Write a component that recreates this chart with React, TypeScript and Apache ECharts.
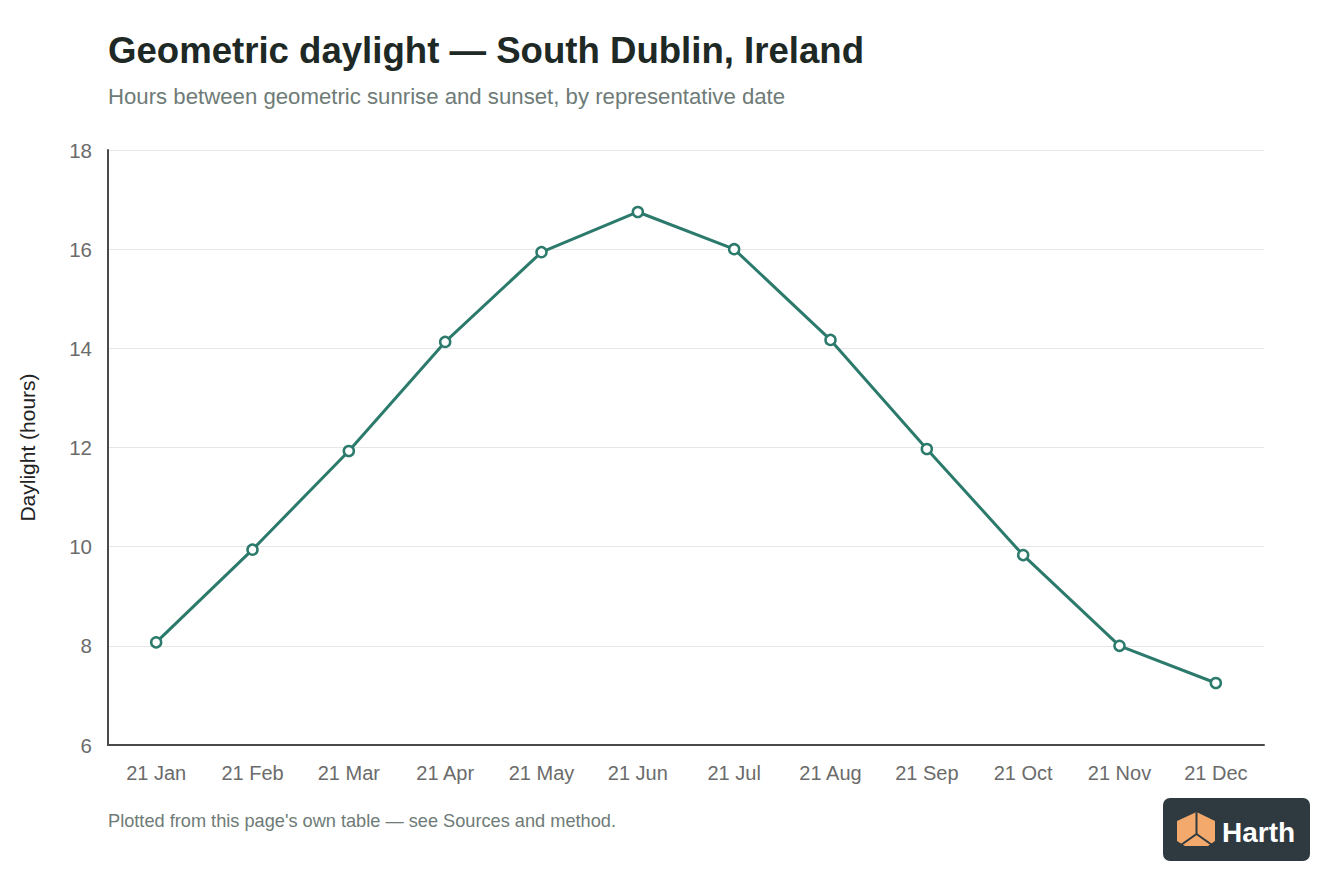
import React, { useEffect, useRef } from "react";
import * as echarts from "echarts";

const categories = ["21 Jan", "21 Feb", "21 Mar", "21 Apr", "21 May", "21 Jun", "21 Jul", "21 Aug", "21 Sep", "21 Oct", "21 Nov", "21 Dec"];
const daylightHours = [8.07, 9.94, 11.93, 14.13, 15.94, 16.75, 16.0, 14.17, 11.97, 9.83, 8.0, 7.25];
const titleText = "Geometric daylight — South Dublin, Ireland";
const subtitleText = "Hours between geometric sunrise and sunset, by representative date";
const yAxisName = "Daylight (hours)";
const footnoteText = "Plotted from this page's own table — see Sources and method.";
const logoText = "Harth";

const FONT = "'Liberation Sans', Arial, Helvetica, sans-serif";
const LINE = "#2b7a6b";

export default function App() {
  const ref = useRef<HTMLDivElement>(null);
  useEffect(() => {
    if (!ref.current) return;
    const chart = echarts.init(ref.current, null, { renderer: "svg" });
    chart.setOption({
      animation: false,
      backgroundColor: "#ffffff",
      title: [
        {
          text: titleText,
          left: 103,
          top: 27,
          textStyle: { fontFamily: FONT, fontSize: 36.6, fontWeight: "bold", color: "#1e2925" },
        },
        {
          text: subtitleText,
          left: 103,
          top: 80,
          textStyle: { fontFamily: FONT, fontSize: 22.2, fontWeight: "normal", color: "#6e7b77" },
        },
      ],
      grid: { left: 108, right: 80, top: 150, bottom: 151, containLabel: false },
      xAxis: {
        type: "category",
        data: categories,
        boundaryGap: true,
        axisLine: { lineStyle: { color: "#4a4a4a", width: 2 } },
        axisTick: { show: false },
        axisLabel: { fontFamily: FONT, fontSize: 20, color: "#6b6b6b", margin: 18 },
      },
      yAxis: {
        type: "value",
        min: 6,
        max: 18,
        interval: 2,
        name: yAxisName,
        nameLocation: "middle",
        nameGap: 70,
        nameTextStyle: { fontFamily: FONT, fontSize: 21, color: "#222222" },
        axisLine: { show: true, lineStyle: { color: "#4a4a4a", width: 2 } },
        axisTick: { show: false },
        axisLabel: { fontFamily: FONT, fontSize: 20.5, color: "#6b6b6b", margin: 16 },
        splitLine: { lineStyle: { color: "#e6e6e6", width: 1 } },
      },
      series: [
        {
          type: "line",
          data: daylightHours,
          symbol: "circle",
          symbolSize: 10,
          lineStyle: { color: LINE, width: 3 },
          itemStyle: { color: "#ffffff", borderColor: LINE, borderWidth: 2.5 },
          z: 3,
        },
      ],
      graphic: [
        {
          type: "text",
          left: 108,
          top: 812,
          style: { text: footnoteText, font: `18.2px ${FONT}`, fill: "#6e7b77" },
        },
        {
          type: "group",
          children: [
            {
              type: "rect",
              shape: { x: 1163, y: 798, width: 147, height: 63, r: 7 },
              style: { fill: "#2e3a40" },
            },
            {
              type: "polygon",
              shape: {
                points: [
                  [1196.5, 812],
                  [1215, 821],
                  [1215, 841],
                  [1208, 846],
                  [1185, 846],
                  [1177, 841],
                  [1177, 821],
                ],
              },
              style: { fill: "#f4a96c" },
            },
            {
              type: "polyline",
              shape: { points: [[1196.5, 812], [1196.5, 834], [1181, 845]] },
              style: { stroke: "#2e3a40", lineWidth: 2, fill: null },
            },
            {
              type: "polyline",
              shape: { points: [[1196.5, 834], [1212, 845]] },
              style: { stroke: "#2e3a40", lineWidth: 2, fill: null },
            },
            {
              type: "text",
              x: 1222,
              y: 832,
              style: {
                text: logoText,
                font: `bold 28px ${FONT}`,
                fill: "#ffffff",
                textVerticalAlign: "middle",
                verticalAlign: "middle",
              },
            },
          ],
        },
      ],
    });
    return () => chart.dispose();
  }, []);
  return <div ref={ref} style={{ position: "absolute", left: 0, top: 0, width: 1344, height: 896 }} />;
}
